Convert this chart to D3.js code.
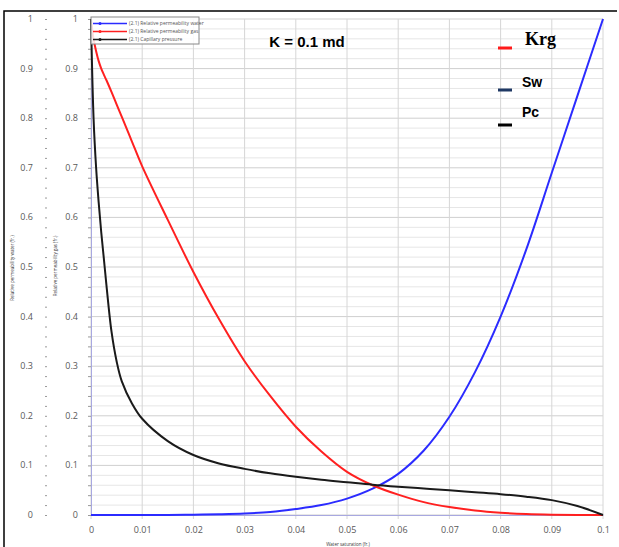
<!DOCTYPE html>
<html>
<head>
<meta charset="utf-8">
<script src="https://cdn.jsdelivr.net/npm/d3@7"></script>
<style>
  body { margin: 0; background: #fff; }
  svg { display: block; }
</style>
</head>
<body>
<script>
// water saturation samples (fr.)
var sw = [0, 0.0005, 0.001, 0.0015, 0.002, 0.0025, 0.003, 0.004, 0.005, 0.006, 0.008, 0.01,
          0.015, 0.02, 0.025, 0.03, 0.035, 0.04, 0.045, 0.05, 0.055, 0.06, 0.065, 0.07,
          0.075, 0.08, 0.085, 0.09, 0.095, 0.1];
// relative permeability water
var krw = [0, 0, 0, 0, 0, 0, 0, 0, 0, 0, 0, 0,
           0.0002, 0.0006, 0.0015, 0.003, 0.006, 0.012, 0.02, 0.033, 0.053, 0.083, 0.13, 0.198,
           0.288, 0.4, 0.535, 0.69, 0.845, 1];
// relative permeability gas
var krg = [1, 0.96, 0.935, 0.915, 0.9, 0.888, 0.877, 0.853, 0.828, 0.803, 0.753, 0.703,
           0.595, 0.49, 0.395, 0.31, 0.24, 0.178, 0.128, 0.087, 0.06, 0.041, 0.026, 0.016,
           0.009, 0.0045, 0.0018, 0.0005, 0, 0];
// capillary pressure
var pc = [1, 0.8, 0.7, 0.63, 0.57, 0.518, 0.465, 0.37, 0.31, 0.27, 0.225, 0.194,
          0.149, 0.121, 0.104, 0.093, 0.084, 0.077, 0.071, 0.066, 0.061, 0.057, 0.0535, 0.05,
          0.046, 0.042, 0.037, 0.03, 0.018, 0];

var xTicks = d3.range(0, 11).map(function(i) { return i / 100; });
var yTicks = d3.range(0, 11).map(function(i) { return i / 10; });
var yMinor = d3.range(0, 51).map(function(i) { return i / 50; });

var legendNames = ['(2.1) Relative permeability water', '(2.1) Relative permeability gas', '(2.1) Capillary pressure'];
var seriesColors = ['#2b2bff', '#ff2020', '#1a1a1a'];

var W = 619, H = 547;
var svg = d3.select('body').append('svg').attr('width', W).attr('height', H);

var x = d3.scaleLinear().domain([0, 0.1]).range([91, 603]);
var y = d3.scaleLinear().domain([0, 1]).range([515, 19]);

// outer frame
svg.append('path')
    .attr('d', 'M4,' + H + 'V11H617')
    .attr('fill', 'none')
    .attr('stroke', '#000')
    .attr('stroke-width', 1.5);

// gridlines
var grid = svg.append('g');
grid.selectAll('.hmin').data(yMinor).enter().append('line')
    .attr('x1', x(0)).attr('x2', x(0.1))
    .attr('y1', function(d) { return y(d); }).attr('y2', function(d) { return y(d); })
    .attr('stroke', function(d, i) { return i % 5 === 0 ? '#cfcfcf' : '#e6e6e6'; })
    .attr('stroke-width', 1);
grid.selectAll('.v').data(xTicks).enter().append('line')
    .attr('x1', function(d) { return x(d); }).attr('x2', function(d) { return x(d); })
    .attr('y1', y(1)).attr('y2', y(0) + 4)
    .attr('stroke', '#d6d6d6')
    .attr('stroke-width', 1);

// inner y axis
var fmt = d3.format('~g');
var yInner = svg.append('g').attr('transform', 'translate(' + x(0) + ',0)')
    .call(d3.axisLeft(y).tickValues(yMinor).tickSize(3).tickFormat(''));
yInner.select('.domain').attr('stroke', '#a8a8e0');
yInner.selectAll('.tick line').attr('stroke', '#999');
svg.append('g').selectAll('text').data(yTicks).enter().append('text')
    .attr('x', 78).attr('y', function(d) { return y(d) + 3; })
    .attr('text-anchor', 'end')
    .attr('font-family', 'Open Sans, sans-serif').attr('font-size', 9).attr('fill', '#595959')
    .text(function(d) { return fmt(d); });

// outer y axis
var yOuter = svg.append('g').attr('transform', 'translate(47,0)')
    .call(d3.axisLeft(y).tickValues(yMinor).tickSize(2).tickFormat(''));
yOuter.select('.domain').remove();
yOuter.selectAll('.tick line').attr('stroke', '#999');
svg.append('g').selectAll('text').data(yTicks).enter().append('text')
    .attr('x', 33).attr('y', function(d) { return y(d) + 3; })
    .attr('text-anchor', 'end')
    .attr('font-family', 'Open Sans, sans-serif').attr('font-size', 9).attr('fill', '#595959')
    .text(function(d) { return fmt(d); });

// x axis
var xAxis = svg.append('g').attr('transform', 'translate(0,' + y(0) + ')')
    .call(d3.axisBottom(x).tickValues(xTicks).tickSize(0).tickPadding(12).tickFormat(fmt));
xAxis.select('.domain').attr('stroke', '#a8a8e0');
xAxis.selectAll('text').attr('font-family', 'Open Sans, sans-serif').attr('font-size', 9).attr('fill', '#595959');

// axis titles (tiny)
svg.append('text').attr('transform', 'translate(14,268) rotate(-90)')
    .attr('text-anchor', 'middle').attr('font-family', 'Open Sans, sans-serif')
    .attr('font-size', 4.5).attr('fill', '#333').text('Relative permeability water (fr.)');
svg.append('text').attr('transform', 'translate(57,266) rotate(-90)')
    .attr('text-anchor', 'middle').attr('font-family', 'Open Sans, sans-serif')
    .attr('font-size', 4.5).attr('fill', '#333').text('Relative permeability gas (fr.)');
svg.append('text').attr('x', 348).attr('y', 546)
    .attr('text-anchor', 'middle').attr('font-family', 'Open Sans, sans-serif')
    .attr('font-size', 4.5).attr('fill', '#333').text('Water saturation (fr.)');

// curves
var series = [krw, krg, pc];
var line = d3.line()
    .x(function(d, i) { return x(sw[i]); })
    .y(function(d) { return y(d); })
    .curve(d3.curveCatmullRom.alpha(0.5));
svg.append('g').selectAll('path').data(series).enter().append('path')
    .attr('d', line)
    .attr('fill', 'none')
    .attr('stroke', function(d, i) { return seriesColors[i]; })
    .attr('stroke-width', 2);

// legend box
var lg = svg.append('g');
lg.append('rect').attr('x', 91).attr('y', 17).attr('width', 108).attr('height', 27)
    .attr('fill', 'rgba(255,255,255,0.85)').attr('stroke', '#888').attr('stroke-width', 1);
legendNames.forEach(function(name, i) {
    var ly = 23.5 + i * 8;
    lg.append('line').attr('x1', 93).attr('x2', 127).attr('y1', ly).attr('y2', ly)
        .attr('stroke', seriesColors[i]).attr('stroke-width', 1.5);
    lg.append('circle').attr('cx', 100).attr('cy', ly).attr('r', 1.5).attr('fill', seriesColors[i]);
    lg.append('text').attr('x', 129).attr('y', ly + 1.7)
        .attr('font-family', 'Open Sans, sans-serif').attr('font-size', 5).attr('fill', '#555')
        .text(name);
});

// annotations
svg.append('text').attr('x', 307).attr('y', 47).attr('text-anchor', 'middle')
    .attr('font-family', 'Liberation Sans, Arial, sans-serif').attr('font-weight', 'bold')
    .attr('font-size', 15).attr('fill', '#000').text('K = 0.1 md');

var notes = [
    { label: 'Krg', color: '#ff1a1a', font: 'Liberation Serif, Times New Roman, serif', size: 18, tx: 525, ty: 45, ly: 48 },
    { label: 'Sw', color: '#1f3864', font: 'Liberation Sans, Arial, sans-serif', size: 14, tx: 522, ty: 87, ly: 90 },
    { label: 'Pc', color: '#000', font: 'Liberation Sans, Arial, sans-serif', size: 14, tx: 522, ty: 117, ly: 125 }
];
notes.forEach(function(n) {
    svg.append('line').attr('x1', 498).attr('x2', 512).attr('y1', n.ly).attr('y2', n.ly)
        .attr('stroke', n.color).attr('stroke-width', 3);
    svg.append('text').attr('x', n.tx).attr('y', n.ty)
        .attr('font-family', n.font).attr('font-weight', 'bold')
        .attr('font-size', n.size).attr('fill', '#000').text(n.label);
});
</script>
</body>
</html>
